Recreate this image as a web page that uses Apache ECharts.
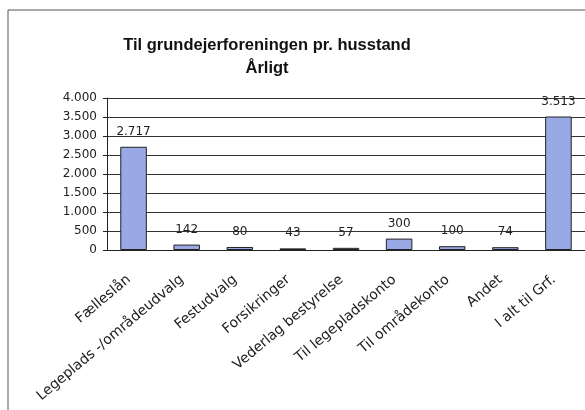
<!DOCTYPE html>
<html>
<head>
<meta charset="utf-8">
<script src="https://cdn.jsdelivr.net/npm/echarts@6/dist/echarts.min.js"></script>
<style>
  html, body { margin: 0; padding: 0; background: #fff; }
  #main { width: 585px; height: 410px; }
</style>
</head>
<body>
<div id="main"></div>
<script>
// kategorier og beløb (kr. pr. husstand, årligt)
var categories = ['Fælleslån', 'Legeplads -/områdeudvalg', 'Festudvalg', 'Forsikringer',
  'Vederlag bestyrelse', 'Til legepladskonto', 'Til områdekonto', 'Andet', 'I alt til Grf.'];
var values = [2717, 142, 80, 43, 57, 300, 100, 74, 3513];
var yTicks = [0, 500, 1000, 1500, 2000, 2500, 3000, 3500, 4000];

function fmt(v) {
  return String(v).replace(/\B(?=(\d{3})+(?!\d))/g, '.');
}

var myChart = echarts.init(document.getElementById('main'));
myChart.setOption({
  animation: false,
  textStyle: { fontFamily: 'DejaVu Sans, sans-serif' },
  title: {
    text: 'Til grundejerforeningen pr. husstand\nÅrligt',
    left: 262,
    textAlign: 'center',
    top: 29,
    textStyle: {
      fontFamily: 'Liberation Sans, Arial, sans-serif',
      fontSize: 16.5, fontWeight: 'bold', color: '#111', lineHeight: 23
    }
  },
  graphic: [{
    type: 'rect',
    shape: { x: 8, y: 10, width: 640, height: 460 },
    style: { fill: 'none', stroke: '#555', lineWidth: 1 },
    silent: true
  }],
  grid: { left: 107, top: 98, right: -2, bottom: 160 },
  xAxis: {
    type: 'category',
    data: categories,
    axisLine: { lineStyle: { color: '#222' } },
    axisTick: { length: 4, lineStyle: { color: '#222' } },
    axisLabel: { rotate: 40, margin: 24, fontSize: 14, color: '#222', padding: [0, 6, 0, 0] }
  },
  yAxis: {
    type: 'value',
    min: yTicks[0],
    max: yTicks[yTicks.length - 1],
    interval: 500,
    axisLine: { show: true, lineStyle: { color: '#222' } },
    axisTick: { show: true, length: 4, lineStyle: { color: '#222' } },
    axisLabel: { fontSize: 12, color: '#222', margin: 10, formatter: fmt },
    splitLine: { lineStyle: { color: '#333', width: 1 } }
  },
  series: [{
    type: 'bar',
    data: values,
    barWidth: '50%',
    itemStyle: { color: '#98a9e6', borderColor: '#222', borderWidth: 1 },
    label: {
      show: true, position: 'top', distance: 9,
      fontSize: 12, color: '#222',
      formatter: function (p) { return fmt(p.value); }
    }
  }]
});
</script>
</body>
</html>
